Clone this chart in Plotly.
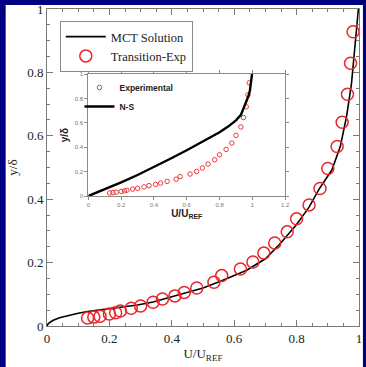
import plotly.graph_objects as go

# MCT solution profile (main panel)
mct_u = [0, 0.003, 0.01, 0.02, 0.04, 0.07, 0.10, 0.13, 0.19, 0.24, 0.29, 0.34, 0.38,
         0.43, 0.50, 0.56, 0.64, 0.70, 0.745, 0.80, 0.84, 0.872, 0.913, 0.94, 0.96,
         0.976, 0.987, 0.994, 0.998]
mct_y = [0, 0.006, 0.012, 0.018, 0.026, 0.034, 0.040, 0.046, 0.053, 0.059, 0.066, 0.076,
         0.087, 0.099, 0.12, 0.143, 0.176, 0.212, 0.257, 0.32, 0.375, 0.432, 0.492,
         0.566, 0.66, 0.765, 0.89, 0.95, 1.0]

# Transition experiment data
exp_u = [0.13, 0.15, 0.17, 0.20, 0.22, 0.235, 0.27, 0.30, 0.34, 0.37, 0.41, 0.44, 0.48,
         0.535, 0.56, 0.62, 0.66, 0.695, 0.73, 0.77, 0.80, 0.84, 0.875, 0.90, 0.93,
         0.946, 0.963, 0.973, 0.981]
exp_y = [0.025, 0.028, 0.031, 0.038, 0.042, 0.047, 0.056, 0.063, 0.075, 0.085, 0.095,
         0.106, 0.12, 0.138, 0.159, 0.18, 0.202, 0.23, 0.262, 0.297, 0.338, 0.382, 0.434,
         0.497, 0.566, 0.643, 0.731, 0.829, 0.928]

# Navier-Stokes profile (inset)
ns_u = [0, 0.1, 0.2, 0.3, 0.4, 0.5, 0.6, 0.7, 0.8, 0.85, 0.9, 0.93, 0.945, 0.96,
        0.975, 0.985, 0.993, 0.998]
ns_y = [0, 0.055, 0.112, 0.172, 0.236, 0.305, 0.375, 0.447, 0.522, 0.567, 0.62, 0.665,
        0.71, 0.765, 0.815, 0.865, 0.93, 1.0]

main_ticks = [0, 0.2, 0.4, 0.6, 0.8, 1]
main_ticktext = ["0", "0.2", "0.4", "0.6", "0.8", "1"]
inset_xticks = [0, 0.2, 0.4, 0.6, 0.8, 1, 1.2]
inset_xticktext = ["0", "0.2", "0.4", "0.6", "0.8", "1", "1.2"]
inset_yticks = [0, 0.2, 0.4, 0.6, 0.8, 1]
inset_yticktext = ["0", "0.2", "0.4", "0.6", "0.8", "1"]

W, H = 366, 367
L, R, T, B = 47, 2, 9, 41
pw, ph = W - L - R, H - T - B

def px_x(p):
    return (p - L) / pw

def px_y(p):
    return (H - B - p) / ph

SERIF = "Liberation Serif"
SANS = "Liberation Sans"

fig = go.Figure()

fig.add_trace(go.Scatter(
    x=mct_u, y=mct_y, mode="lines", name="MCT Solution",
    line=dict(color="black", width=1.6),
    legend="legend", xaxis="x", yaxis="y"))
fig.add_trace(go.Scatter(
    x=exp_u, y=exp_y, mode="markers", name="Transition-Exp",
    marker=dict(symbol="circle-open", size=12, color="#e8262a", line=dict(width=1.5)),
    legend="legend", xaxis="x", yaxis="y"))

fig.add_trace(go.Scatter(
    x=exp_u, y=exp_y, mode="markers", name="Experimental",
    marker=dict(symbol="circle-open", size=4.5, color="#ee3a3a", line=dict(width=1)),
    legend="legend2", xaxis="x2", yaxis="y2"))
fig.add_trace(go.Scatter(
    x=ns_u, y=ns_y, mode="lines", name="N-S",
    line=dict(color="black", width=2.4),
    legend="legend2", xaxis="x2", yaxis="y2"))

axis_common = dict(
    showline=True, linecolor="#7a7a7a", linewidth=1, mirror="ticks",
    ticks="inside", ticklen=6, tickcolor="#7a7a7a", tickwidth=1,
    showgrid=False, zeroline=False,
    tickfont=dict(family=SERIF, size=13, color="#222"),
    minor=dict(ticks="inside", dtick=0.05, ticklen=3, tickcolor="#7a7a7a"),
)

inset_axis = dict(
    showline=True, linecolor="#8a8a8a", linewidth=1, mirror="ticks",
    ticks="outside", ticklen=3, tickcolor="#8a8a8a",
    showgrid=False, zeroline=False,
    tickfont=dict(family=SANS, size=6, color="#777"),
)

fig.update_layout(
    width=W, height=H,
    margin=dict(l=L, r=R, t=T, b=B),
    paper_bgcolor="#000080",
    plot_bgcolor="white",
    showlegend=True,
    xaxis=dict(axis_common, domain=[0, 1], range=[0, 1],
               tickvals=main_ticks, ticktext=main_ticktext,
               title=dict(text="U/U<sub>REF</sub>", standoff=4,
                          font=dict(family=SERIF, size=13, color="#222"))),
    yaxis=dict(axis_common, domain=[0, 1], range=[0, 1],
               tickvals=main_ticks, ticktext=main_ticktext,
               title=dict(text="y/δ", standoff=6,
                          font=dict(family=SERIF, size=13, color="#222"))),
    xaxis2=dict(inset_axis, anchor="y2",
                domain=[px_x(89), px_x(289)], range=[0, 1.2],
                tickvals=inset_xticks, ticktext=inset_xticktext,
                title=dict(text="U/U<sub>REF</sub>", standoff=1,
                           font=dict(family=SANS, size=10, color="#222", weight="bold"))),
    yaxis2=dict(inset_axis, anchor="x2",
                domain=[px_y(196), px_y(74)], range=[0, 1],
                tickvals=inset_yticks, ticktext=inset_yticktext,
                title=dict(text="y/δ", standoff=4,
                           font=dict(family=SANS, size=10, color="#222", weight="bold"))),
    legend=dict(
        x=px_x(60), y=px_y(21), xanchor="left", yanchor="top",
        bgcolor="white", bordercolor="#8a8a8a", borderwidth=1,
        font=dict(family=SERIF, size=12.5, color="#222"),
        itemwidth=40, tracegroupgap=0),
    legend2=dict(
        x=px_x(80), y=px_y(73), xanchor="left", yanchor="top",
        bgcolor="rgba(0,0,0,0)", borderwidth=0,
        font=dict(family=SANS, size=8.5, color="#222", weight="bold"),
        itemwidth=30, tracegroupgap=0),
    shapes=[dict(type="rect", xref="paper", yref="paper", layer="below",
                 x0=px_x(5), x1=px_x(W + 2), y0=px_y(H + 2), y1=px_y(5),
                 fillcolor="white", line=dict(width=0))],
)

fig.write_html("out.html")
